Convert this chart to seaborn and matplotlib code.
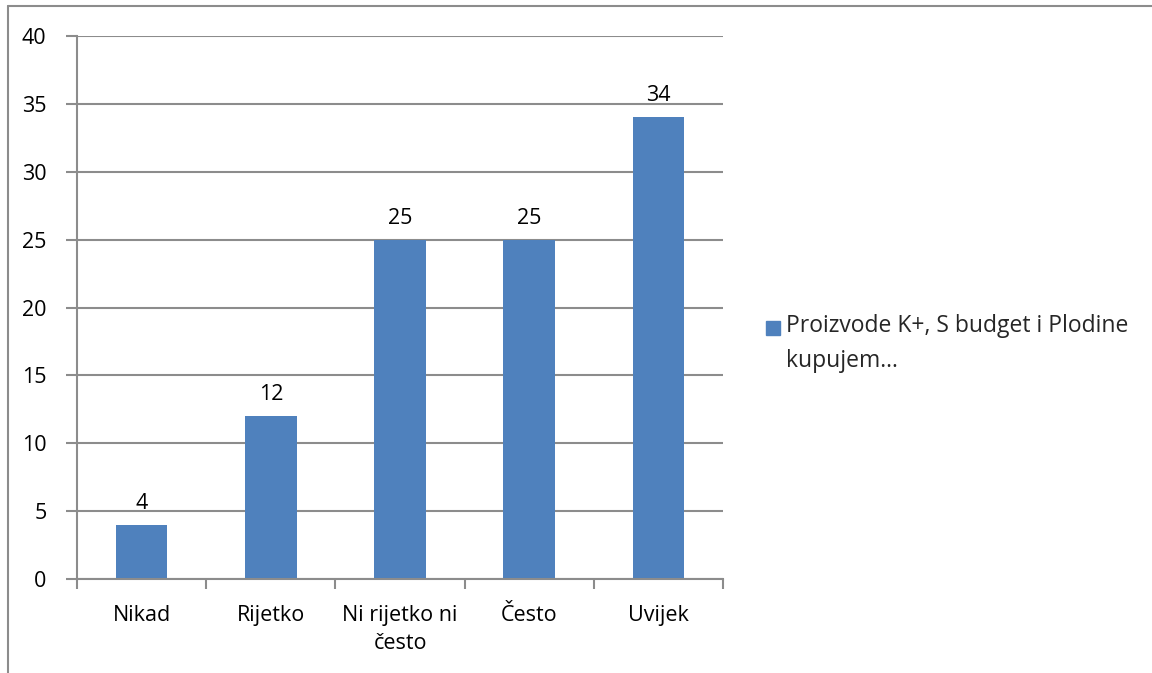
import matplotlib
matplotlib.use('Agg')
import matplotlib.pyplot as plt
import pandas as pd
import seaborn as sns
from matplotlib.patches import Rectangle
from matplotlib.lines import Line2D

# podaci s grafa
kategorije = ['Nikad', 'Rijetko', 'Ni rijetko ni\nčesto', 'Često', 'Uvijek']
vrijednosti = [4, 12, 25, 25, 34]
serija = 'Proizvode K+, S budget i Plodine\nkupujem...'
y_ticks = [0, 5, 10, 15, 20, 25, 30, 35, 40]

sns.set_theme(style='white')
plt.rcParams['font.family'] = ['Open Sans', 'DejaVu Sans']

df = pd.DataFrame({'kategorija': kategorije, 'vrijednost': vrijednosti})

fs = 15.5
fig = plt.figure(figsize=(11.52, 6.73), dpi=100)
ax = fig.add_axes([77 / 1152, 1 - 579 / 673, (723 - 77) / 1152, (579 - 36) / 673])

sns.barplot(data=df, x='kategorija', y='vrijednost', color='#4F81BD', width=0.4,
            saturation=1, linewidth=0, ax=ax)
ax.bar_label(ax.containers[0], fontsize=fs, padding=8, color='black')

grid_col = '#8C8C8C'
ax.set_ylim(0, 40)
ax.set_xlim(-0.5, len(kategorije) - 0.5)
ax.set_yticks(y_ticks)
ax.yaxis.grid(True, color=grid_col, linewidth=1.5)
ax.set_axisbelow(True)
ax.set_xlabel('')
ax.set_ylabel('')

for s in ['top', 'right']:
    ax.spines[s].set_visible(False)
for s in ['left', 'bottom']:
    ax.spines[s].set_color(grid_col)
    ax.spines[s].set_linewidth(1.5)

ax.tick_params(axis='y', which='major', length=8, width=1.5, color=grid_col,
               labelsize=fs, pad=14, left=True, labelcolor='black')
ax.set_xticks(range(len(kategorije)))
ax.set_xticklabels(kategorije, fontsize=fs, color='black', linespacing=1.4)
ax.tick_params(axis='x', which='major', length=0, pad=19)
ax.set_xticks([i - 0.5 for i in range(len(kategorije) + 1)], minor=True)
ax.tick_params(axis='x', which='minor', length=7, width=1.5, color=grid_col,
               bottom=True)

# legenda
fig.patches.append(Rectangle((766 / 1152, 1 - 335 / 673), 14 / 1152, 14 / 673,
                             transform=fig.transFigure, color='#4F81BD'))
fig.text(786 / 1152, 1 - 314 / 673, serija, fontsize=16.5, va='top', ha='left',
         linespacing=1.6)

# okvir
fig.add_artist(Line2D([8 / 1152, 8 / 1152], [0, 1 - 6 / 673], color='#8C8C8C',
                      linewidth=1.5, transform=fig.transFigure))
fig.add_artist(Line2D([8 / 1152, 1], [1 - 6 / 673, 1 - 6 / 673], color='#8C8C8C',
                      linewidth=1.5, transform=fig.transFigure))

fig.savefig('out.png', dpi=100)
